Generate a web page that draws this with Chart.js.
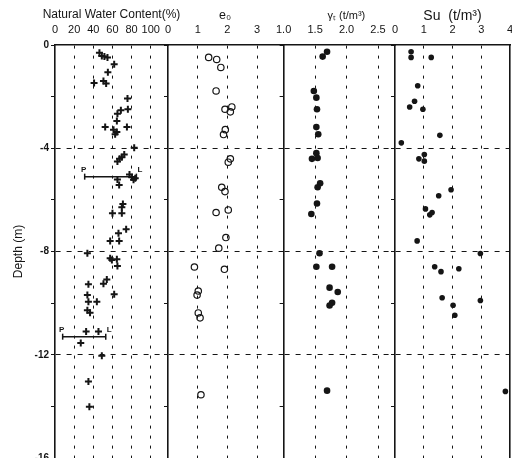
<!DOCTYPE html>
<html>
<head>
<meta charset="utf-8">
<script src="https://cdn.jsdelivr.net/npm/chart.js@4"></script>
<style>
    html, body { margin: 0; padding: 0; background: #fff; overflow: hidden; width: 512px; height: 458px; }
    canvas { position: absolute; top: 0; }
</style>
</head>
<body>
<canvas id="wcChart"></canvas>
<canvas id="e0Chart"></canvas>
<canvas id="gtChart"></canvas>
<canvas id="suChart"></canvas>
<script>
// Natural water content (%) vs depth (m)
const wcDepth = [-0.30, -0.43, -0.45, -0.48, -0.75, -1.06, -1.47, -1.39, -1.49, -2.07, -2.49, -2.53, -2.66, -2.94,
    -3.18, -3.28, -3.18, -3.37, -3.46, -3.98, -4.24, -4.35, -4.41, -4.51, -5.02, -5.12, -5.16, -5.22, -5.21, -5.42,
    -6.16, -6.29, -6.52, -6.52, -7.14, -7.29, -7.59, -7.59, -8.07, -8.26, -8.33, -8.30, -8.56, -9.08, -9.25, -9.27,
    -9.66, -9.69, -9.95, -9.95, -10.28, -10.37, -11.1, -11.1, -11.54, -12.04, -13.04, -14.01];
const wcValue = [46.4, 48.9, 51.6, 54.8, 61.8, 55.2, 40.8, 50.6, 53.4, 75.7, 76.1, 68.8, 65.2, 64.6,
    52.4, 61.1, 75.1, 64.6, 62.8, 82.7, 72.3, 69.8, 67.4, 65.2, 77.8, 80.3, 83.8, 82.0, 65.2, 67.0,
    70.9, 69.8, 60.0, 69.8, 74.3, 66.3, 57.6, 67.0, 33.8, 57.6, 59.4, 64.6, 65.2, 54.1, 50.6, 34.9,
    61.8, 33.8, 34.9, 43.7, 33.8, 36.6, 32.5, 45.4, 26.9, 48.9, 34.9, 35.9];

// Atterberg limits (plastic / liquid)
const limitDepth = [-5.1, -11.3];
const plasticLimit = [31, 8];
const liquidLimit = [85, 53];

// Initial void ratio e0
const e0Depth = [-0.48, -0.56, -0.87, -1.78, -2.49, -2.40, -2.59, -3.28, -3.47, -4.41, -4.54, -5.51, -5.68,
    -6.49, -6.39, -7.46, -7.87, -8.60, -8.69, -9.53, -9.69, -10.38, -10.57, -13.55];
const e0Value = [1.37, 1.64, 1.78, 1.62, 1.92, 2.15, 2.10, 1.93, 1.87, 2.10, 2.03, 1.81, 1.92,
    1.62, 2.03, 1.95, 1.71, 0.89, 1.90, 1.02, 0.98, 1.02, 1.08, 1.11];

// Unit weight gamma_t (t/m3)
const gtDepth = [-0.26, -0.45, -1.78, -2.04, -2.49, -3.18, -3.46, -4.19, -4.41, -4.38, -5.36, -5.51, -6.14,
    -6.55, -8.07, -8.59, -8.59, -9.40, -9.57, -9.99, -10.09, -13.39];
const gtValue = [1.69, 1.62, 1.48, 1.52, 1.53, 1.52, 1.55, 1.52, 1.45, 1.54, 1.58, 1.54, 1.53,
    1.44, 1.57, 1.52, 1.77, 1.73, 1.86, 1.77, 1.73, 1.69];

// Undrained shear strength Su
const suDepth = [-0.26, -0.48, -0.48, -1.58, -2.18, -2.40, -2.49, -3.50, -3.79, -4.24, -4.41, -4.50, -5.61,
    -5.84, -6.35, -6.49, -6.58, -7.59, -8.08, -8.59, -8.78, -8.67, -9.79, -9.90, -10.08, -10.47, -13.42];
const suValue = [0.56, 0.56, 1.26, 0.79, 0.68, 0.51, 0.97, 1.56, 0.22, 1.02, 0.83, 1.02, 1.95,
    1.52, 1.06, 1.29, 1.21, 0.77, 2.97, 1.38, 1.60, 2.22, 1.64, 2.97, 2.02, 2.08, 3.84];

// Top tick labels for each panel
const wcTicks = [0, 20, 40, 60, 80, 100];
const e0Ticks = [0, 1, 2, 3];
const gtTicks = [1.0, 1.5, 2.0, 2.5];
const suTicks = [0, 1, 2, 3, 4];

const TOP = 45;      // plot top (depth 0)
const BOTTOM = 458;  // plot bottom (depth -16)
const CH = 476;
const PAD = 14;
const INK = '#151515';
const FONT = "'Liberation Sans', Arial, sans-serif";

Chart.defaults.font.family = FONT;
Chart.defaults.color = INK;

function xy(xs, ys) {
    return xs.map((x, i) => ({ x: x, y: ys[i] }));
}

// panel heading drawn above the tick labels (can be wider than the panel)
const panelTitle = {
    id: 'panelTitle',
    afterDraw(chart, args, opts) {
        const { ctx, chartArea } = chart;
        ctx.save();
        ctx.fillStyle = INK;
        ctx.font = opts.size + 'px ' + FONT;
        ctx.textAlign = 'center';
        ctx.textBaseline = 'middle';
        ctx.fillText(opts.text, (chartArea.left + chartArea.right) / 2 + (opts.dx || 0), opts.y);
        ctx.restore();
    }
};

const limitLabels = {
    id: 'limitLabels',
    afterDatasetsDraw(chart) {
        const { ctx, scales: { x, y } } = chart;
        ctx.save();
        ctx.fillStyle = INK;
        ctx.font = 'bold 8px ' + FONT;
        ctx.textBaseline = 'bottom';
        limitDepth.forEach((d, i) => {
            const py = y.getPixelForValue(d) - 3;
            ctx.textAlign = 'center';
            ctx.fillText('P', x.getPixelForValue(plasticLimit[i]) - 1, py);
            ctx.textAlign = 'left';
            ctx.fillText('L', x.getPixelForValue(liquidLimit[i]) + 1, py);
        });
        ctx.restore();
    }
};

function makePanel(c) {
    const cv = document.getElementById(c.id);
    const cl = c.depthAxis ? 0 : c.left - PAD;
    cv.width = c.right + PAD - cl;
    cv.height = CH;
    cv.style.left = cl + 'px';

    const scales = {
        x: {
            type: 'linear', position: 'top', min: c.xMin, max: c.xMax,
            afterFit: s => { s.height = TOP; },
            afterBuildTicks: s => { s.ticks = c.ticks.map(v => ({ value: v })); },
            ticks: {
                padding: 8, font: { size: 11 }, color: INK,
                maxRotation: 0, autoSkip: false, callback: c.xLabel
            },
            grid: {
                drawTicks: false, lineWidth: 1,
                color: ctx => (ctx.tick && ctx.tick.value > c.xMin + 1e-6 && ctx.tick.value < c.xMax - 1e-6) ? INK : 'rgba(0,0,0,0)'
            },
            border: { display: true, color: INK, width: 1.6, dash: [3, 7] }
        },
        y: {
            type: 'linear', min: -16, max: 0,
            afterFit: s => { s.width = c.depthAxis ? c.left : 0; },
            ticks: {
                display: c.depthAxis, stepSize: 2, padding: 2, color: INK,
                font: { size: 10, weight: 'bold' },
                callback: v => (v % 4 === 0 ? v : '')
            },
            grid: {
                drawTicks: c.depthAxis, tickLength: 4, tickColor: INK, lineWidth: 1,
                color: ctx => {
                    const v = ctx.tick ? ctx.tick.value : 0;
                    return (v % 4 === 0 && v < 0 && v > -16) ? INK : 'rgba(0,0,0,0)';
                }
            },
            border: { display: true, color: INK, width: 1.6, dash: [5, 6] },
            title: { display: c.depthAxis, text: 'Depth (m)', font: { size: 12 }, color: INK, padding: { top: 11, bottom: 0 } }
        }
    };

    if (c.rightBorder) {
        scales.yr = {
            type: 'linear', position: 'right', min: -16, max: 0,
            afterFit: s => { s.width = 0; },
            ticks: { display: false },
            grid: { display: false },
            border: { display: true, color: INK, width: 1.6 }
        };
    }

    return new Chart(cv, {
        type: 'scatter',
        data: { datasets: c.datasets },
        options: {
            responsive: false,
            animation: false,
            devicePixelRatio: 1,
            layout: { padding: { left: c.depthAxis ? 0 : PAD, right: PAD, top: 0, bottom: CH - BOTTOM } },
            plugins: {
                legend: { display: false },
                tooltip: { enabled: false },
                panelTitle: c.title
            },
            scales: scales
        },
        plugins: [panelTitle].concat(c.plugins || [])
    });
}

// Water content panel: crosses + limit bars
const wcSets = [{
    data: xy(wcValue, wcDepth),
    pointStyle: 'cross', pointRadius: 3.5, pointBorderWidth: 2,
    borderColor: INK, backgroundColor: INK
}];
limitDepth.forEach((d, i) => {
    wcSets.push({
        data: [{ x: plasticLimit[i], y: d }, { x: liquidLimit[i], y: d }],
        showLine: true, borderColor: INK, borderWidth: 1.5,
        pointStyle: 'line', pointRotation: 90, pointRadius: 3, pointBorderWidth: 1.5,
        pointBorderColor: INK
    });
});

makePanel({
    id: 'wcChart', left: 55, right: 168, xMin: 0, xMax: 118, ticks: wcTicks,
    xLabel: v => String(v),
    title: { text: 'Natural Water Content(%)', size: 12, y: 15 },
    depthAxis: true, datasets: wcSets, plugins: [limitLabels]
});

makePanel({
    id: 'e0Chart', left: 168, right: 282, xMin: 0, xMax: 3.84, ticks: e0Ticks,
    xLabel: v => String(v),
    title: { text: 'e\u2080', size: 12.5, y: 16 },
    datasets: [{
        data: xy(e0Value, e0Depth),
        pointStyle: 'circle', pointRadius: 3.2, pointBorderWidth: 1.2,
        borderColor: INK, backgroundColor: 'rgba(255,255,255,0)'
    }]
});

makePanel({
    id: 'gtChart', left: 282, right: 395, xMin: 1.0, xMax: 2.77, ticks: gtTicks,
    xLabel: v => v.toFixed(1),
    title: { text: '\u03b3\u209c (t/m\u00b3)', size: 11, y: 16, dx: 7 },
    datasets: [{
        data: xy(gtValue, gtDepth),
        pointStyle: 'circle', pointRadius: 3.3, pointBorderWidth: 0,
        borderColor: INK, backgroundColor: INK
    }]
});

makePanel({
    id: 'suChart', left: 395, right: 510, xMin: 0, xMax: 4, ticks: suTicks,
    xLabel: v => String(v),
    title: { text: 'Su  (t/m\u00b3)', size: 14, y: 16 },
    rightBorder: true,
    datasets: [{
        data: xy(suValue, suDepth),
        pointStyle: 'circle', pointRadius: 2.8, pointBorderWidth: 0,
        borderColor: INK, backgroundColor: INK
    }]
});
</script>
</body>
</html>
